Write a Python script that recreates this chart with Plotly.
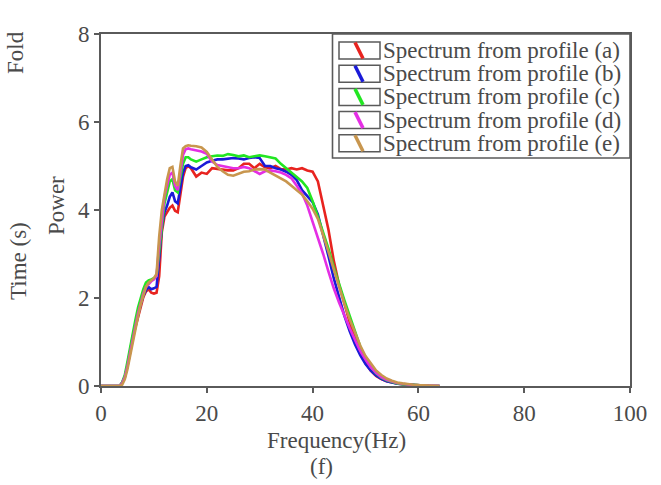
import plotly.graph_objects as go

freq = [0, 1, 2, 3, 3.5, 4, 4.5, 5, 5.5, 6, 6.5, 7, 7.5, 8, 8.5, 9, 9.5, 10, 10.5, 11,
        11.5, 12, 12.5, 13, 13.5, 14, 14.5, 15, 15.5, 16, 16.5, 17, 18, 19, 20, 21, 22,
        23, 24, 25, 26, 27, 28, 29, 30, 31, 32, 33, 34, 35, 36, 37, 38, 39, 40, 41, 42,
        43, 44, 45, 46, 47, 48, 49, 50, 51, 52, 53, 54, 55, 56, 57, 58, 59, 60, 62, 64]

power_a = [0, 0, 0, 0, 0, 0.07, 0.2, 0.45, 0.78, 1.1, 1.33, 1.58, 1.82, 2.02, 2.15,
           2.2, 2.12, 2.1, 2.12, 2.5, 3.5, 3.85, 3.95, 4.05, 4.1, 3.98, 3.95, 4.3, 4.75,
           4.95, 5.0, 4.95, 4.76, 4.85, 4.82, 4.95, 4.93, 4.92, 4.9, 4.9, 4.95, 5.05, 5.05,
           4.95, 5.05, 4.97, 4.95, 5.0, 4.93, 4.92, 4.95, 4.92, 4.95, 4.9, 4.87, 4.65, 4.1,
           3.55, 2.85, 2.3, 1.88, 1.45, 1.1, 0.77, 0.52, 0.35, 0.23, 0.16, 0.11, 0.08, 0.06,
           0.04, 0.03, 0.02, 0.01, 0.005, 0]
power_b = [0, 0, 0, 0, 0, 0.07, 0.2, 0.46, 0.8, 1.12, 1.36, 1.62, 1.86, 2.05, 2.18,
           2.25, 2.2, 2.22, 2.25, 2.9, 3.6, 3.95, 4.1, 4.3, 4.4, 4.2, 4.15, 4.5, 4.85,
           5.0, 5.02, 4.97, 4.92, 5.0, 5.08, 5.12, 5.15, 5.15, 5.17, 5.18, 5.17, 5.15, 5.18,
           5.2, 5.18, 5.0, 5.0, 4.95, 4.92, 4.87, 4.8, 4.68, 4.45, 4.32, 4.18, 3.9, 3.45,
           2.95, 2.45, 2.0, 1.6, 1.25, 0.95, 0.7, 0.5, 0.35, 0.24, 0.16, 0.11, 0.08, 0.05,
           0.04, 0.03, 0.02, 0.01, 0.005, 0]
power_c = [0, 0, 0, 0, 0, 0.08, 0.25, 0.55, 0.9, 1.25, 1.5, 1.78, 2.0, 2.2, 2.35,
           2.4, 2.42, 2.45, 2.5, 3.1, 3.7, 4.15, 4.4, 4.65, 4.7, 4.45, 4.4, 4.7, 5.05,
           5.2, 5.2, 5.15, 5.1, 5.15, 5.2, 5.22, 5.24, 5.23, 5.27, 5.25, 5.22, 5.24, 5.2,
           5.22, 5.24, 5.22, 5.2, 5.17, 5.05, 4.95, 4.85, 4.75, 4.65, 4.5, 4.2, 3.85, 3.5,
           3.12, 2.7, 2.3, 1.95, 1.6, 1.25, 0.9, 0.62, 0.43, 0.29, 0.19, 0.13, 0.09, 0.06,
           0.04, 0.03, 0.02, 0.01, 0.005, 0]
power_d = [0, 0, 0, 0, 0, 0.06, 0.2, 0.45, 0.78, 1.1, 1.35, 1.65, 1.9, 2.1, 2.25,
           2.32, 2.38, 2.42, 2.5, 3.2, 3.8, 4.3, 4.55, 4.8, 4.85, 4.55, 4.45, 4.85, 5.25,
           5.38, 5.4, 5.38, 5.36, 5.33, 5.28, 5.1, 5.02, 5.0, 4.98, 4.95, 4.95, 4.98, 4.95,
           4.88, 4.82, 4.88, 4.9, 4.88, 4.85, 4.8, 4.72, 4.55, 4.38, 4.1, 3.75, 3.38, 3.0,
           2.6, 2.22, 1.9, 1.6, 1.32, 1.05, 0.8, 0.6, 0.43, 0.3, 0.2, 0.14, 0.1, 0.07,
           0.05, 0.03, 0.02, 0.015, 0.005, 0]
power_e = [0, 0, 0, 0, 0, 0.03, 0.15, 0.38, 0.7, 1.02, 1.3, 1.58, 1.85, 2.08, 2.25,
           2.35, 2.4, 2.45, 2.55, 3.4, 4.0, 4.4, 4.7, 4.95, 4.98, 4.65, 4.55, 5.0, 5.4,
           5.45, 5.47, 5.46, 5.45, 5.42, 5.32, 5.15, 4.98, 4.88, 4.8, 4.78, 4.82, 4.87, 4.88,
           4.92, 4.93, 4.92, 4.85, 4.78, 4.72, 4.65, 4.55, 4.45, 4.35, 4.2, 4.03, 3.8, 3.45,
           3.05, 2.65, 2.25, 1.88, 1.52, 1.2, 0.92, 0.68, 0.5, 0.35, 0.25, 0.17, 0.12, 0.08,
           0.06, 0.04, 0.03, 0.02, 0.01, 0]

series_names = ["Spectrum from profile (a)", "Spectrum from profile (b)",
                "Spectrum from profile (c)", "Spectrum from profile (d)",
                "Spectrum from profile (e)"]
series_values = [power_a, power_b, power_c, power_d, power_e]
colors = ["#e8231f", "#1a1ad8", "#22e622", "#e42ee4", "#c8964e"]

x_ticks = [0, 20, 40, 60, 80, 100]
y_ticks = [0, 2, 4, 6, 8]

FONT = "Liberation Serif, Times New Roman, serif"
TXT = "#4a4a4a"
AX = "#5a5a5a"
FS = 23

W, H = 661, 485
# plot area in pixels
L, R, T, B = 101, 630, 34, 386


def px2x(px):
    return (px - L) / (R - L)


def py2y(py):
    return (B - py) / (B - T)


fig = go.Figure()
for name, vals, col in zip(series_names, series_values, colors):
    fig.add_trace(go.Scatter(x=freq, y=vals, mode="lines", name=name,
                             line=dict(color=col, width=2.6), showlegend=False))

annotations = []
shapes = []

# manual legend
shapes.append(dict(type="rect", xref="paper", yref="paper",
                   x0=px2x(332.5), x1=px2x(630), y0=py2y(158), y1=py2y(34),
                   line=dict(color=AX, width=1.6), fillcolor="white", layer="above"))
for i, (name, col) in enumerate(zip(series_names, colors)):
    cy = 50.5 + i * 23.2
    shapes.append(dict(type="rect", xref="paper", yref="paper",
                       x0=px2x(339), x1=px2x(380), y0=py2y(cy + 8.5), y1=py2y(cy - 8.5),
                       line=dict(color=AX, width=1.5), layer="above"))
    shapes.append(dict(type="line", xref="paper", yref="paper",
                       x0=px2x(355), x1=px2x(363), y0=py2y(cy - 8), y1=py2y(cy + 8),
                       line=dict(color=col, width=3.5), layer="above"))
    annotations.append(dict(text=name, xref="paper", yref="paper",
                            x=px2x(381), y=py2y(cy), xanchor="left", yanchor="middle",
                            showarrow=False, font=dict(family=FONT, size=FS, color=TXT)))

# side labels
for txt, cx, cy in [("Fold", 16, 53), ("Time (s)", 18, 261), ("Power", 56, 206)]:
    annotations.append(dict(text=txt, xref="paper", yref="paper",
                            x=px2x(cx), y=py2y(cy), xanchor="center", yanchor="middle",
                            textangle=-90, showarrow=False,
                            font=dict(family=FONT, size=FS, color=TXT)))
# bottom titles
annotations.append(dict(text="Frequency(Hz)", xref="paper", yref="paper",
                        x=px2x(336), y=py2y(440), xanchor="center", yanchor="middle",
                        showarrow=False, font=dict(family=FONT, size=FS, color=TXT)))
annotations.append(dict(text="(f)", xref="paper", yref="paper",
                        x=px2x(321), y=py2y(466), xanchor="center", yanchor="middle",
                        showarrow=False, font=dict(family=FONT, size=FS, color=TXT)))

fig.update_layout(
    width=W, height=H,
    margin=dict(l=L, r=W - R, t=T, b=H - B, pad=0),
    paper_bgcolor="white", plot_bgcolor="white",
    font=dict(family=FONT, size=FS, color=TXT),
    showlegend=False,
    annotations=annotations, shapes=shapes,
    xaxis=dict(range=[0, 100], tickvals=x_ticks, ticktext=[str(v) for v in x_ticks],
               showline=True, linecolor=AX, linewidth=2, mirror=True,
               ticks="outside", ticklen=5, tickwidth=2, tickcolor=AX,
               showgrid=False, zeroline=False,
               tickfont=dict(family=FONT, size=FS, color=TXT)),
    yaxis=dict(range=[0, 8], tickvals=y_ticks, ticktext=[str(v) for v in y_ticks],
               showline=True, linecolor=AX, linewidth=2, mirror=True,
               ticks="outside", ticklen=5, tickwidth=2, tickcolor=AX,
               showgrid=False, zeroline=False,
               tickfont=dict(family=FONT, size=FS, color=TXT)),
)

fig.write_html("out.html", config={"displayModeBar": False},
               post_script="document.body.style.margin='0';document.body.style.padding='0';")
